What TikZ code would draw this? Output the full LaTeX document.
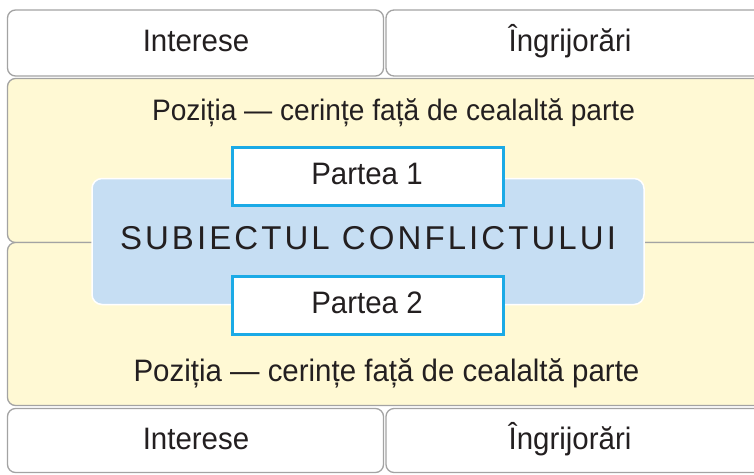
\documentclass[tikz,border=0pt]{standalone}
\usepackage{fontspec}
\setmainfont{Liberation Sans}[FakeStretch=0.95]
\newfontfamily\spacedfont{Liberation Sans}[LetterSpace=9.3]
\definecolor{bordergray}{HTML}{A3A3A3}
\definecolor{paleyellow}{HTML}{FFF9D4}
\definecolor{paleblue}{HTML}{C6DEF3}
\definecolor{cyanline}{HTML}{1BAAE6}
\definecolor{inkcol}{HTML}{231F20}
\begin{document}
\begin{tikzpicture}[x=1pt,y=-1pt,
  box/.style={rectangle, anchor=north west, inner sep=0pt, outer sep=0pt},
  wbox/.style={box, draw=bordergray, fill=white, line width=1.3pt, rounded corners=8pt},
  ybox/.style={box, draw=bordergray, fill=paleyellow, line width=1.3pt, rounded corners=8pt},
  bbox/.style={box, draw=white, fill=paleblue, line width=1.5pt, rounded corners=10pt},
  pbox/.style={box, draw=cyanline, fill=white, line width=3pt},
  lbl/.style={anchor=base, inner sep=0pt, text=inkcol, font=\fontsize{31}{36}\selectfont},
  poslbl/.style={anchor=base, inner sep=0pt, text=inkcol, font=\fontsize{29.6}{34}\selectfont},
  title/.style={anchor=base, inner sep=0pt, text=inkcol, font=\spacedfont\fontsize{33}{38}\selectfont}]
\useasboundingbox (0,0) rectangle (754,474);
\clip (0,0) rectangle (754,474);
% boxes
\node[wbox, minimum width=376, minimum height=66] (tl) at (7.5,10) {};
\node[wbox, minimum width=380, minimum height=66] (tr) at (386,10) {};
\node[ybox, minimum width=770, minimum height=164] (ty) at (7.5,78.5) {};
\node[ybox, minimum width=770, minimum height=163] (by) at (7.5,242.5) {};
\node[wbox, minimum width=376, minimum height=64] (bl) at (7.5,408.5) {};
\node[wbox, minimum width=380, minimum height=64] (br) at (386,408.5) {};
\node[bbox, minimum width=552, minimum height=126] (core) at (92,178.5) {};
\node[pbox, minimum width=271, minimum height=58] (p1) at (232,147.5) {};
\node[pbox, minimum width=271, minimum height=58] (p2) at (232,276.5) {};
% texts
\node[lbl] (tlt) at (196,51.5) {Interese};
\node[lbl] (trt) at (570,51.5) {Îngrijorări};
\node[poslbl] (tyt) at (393.5,120.7) {Poziția — cerințe față de cealaltă parte};
\node[poslbl, font=\fontsize{31}{36}\selectfont] (byt) at (386.5,381) {Poziția — cerințe față de cealaltă parte};
\node[lbl] (blt) at (196,449.3) {Interese};
\node[lbl] (brt) at (570,449.3) {Îngrijorări};
\node[title] (coret) at (368,249.3) {SUBIECTUL CONFLICTULUI};
\node[lbl] (p1t) at (367,184.3) {Partea 1};
\node[lbl] (p2t) at (367,313) {Partea 2};
\end{tikzpicture}
\end{document}
